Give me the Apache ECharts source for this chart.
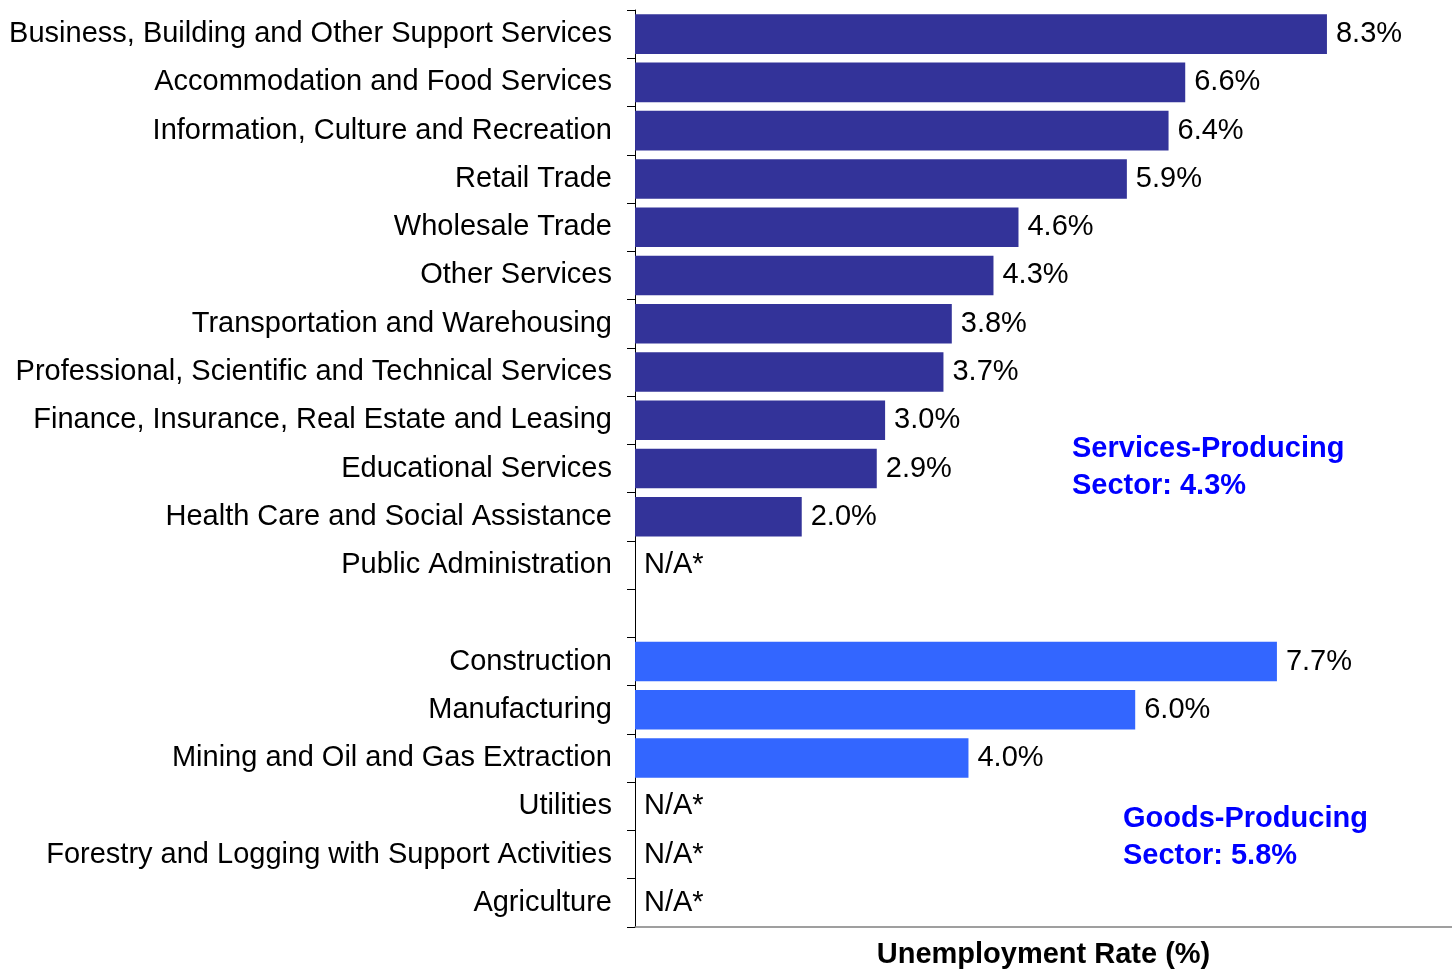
<!DOCTYPE html>
<html>
<head>
<meta charset="utf-8">
<script src="https://cdn.jsdelivr.net/npm/echarts@6/dist/echarts.min.js"></script>
<style>html,body{margin:0;padding:0;background:#fff}#c{width:1452px;height:970px}</style>
</head>
<body>
<div id="c"></div>
<script>
// Categories (top to bottom); '' is the spacer row between sectors
const categories = [
  'Business, Building and Other Support Services',
  'Accommodation and Food Services',
  'Information, Culture and Recreation',
  'Retail Trade',
  'Wholesale Trade',
  'Other Services',
  'Transportation and Warehousing',
  'Professional, Scientific and Technical Services',
  'Finance, Insurance, Real Estate and Leasing',
  'Educational Services',
  'Health Care and Social Assistance',
  'Public Administration',
  '',
  'Construction',
  'Manufacturing',
  'Mining and Oil and Gas Extraction',
  'Utilities',
  'Forestry and Logging with Support Activities',
  'Agriculture'
];
// null = N/A*
const servicesRates = [8.3, 6.6, 6.4, 5.9, 4.6, 4.3, 3.8, 3.7, 3.0, 2.9, 2.0, null];
const goodsRates = [7.7, 6.0, 4.0, null, null, null];
const servicesNote = ['Services-Producing', 'Sector: 4.3%'];
const goodsNote = ['Goods-Producing', 'Sector: 5.8%'];

const FONT = '"Liberation Sans", Arial, sans-serif';
const FS = 29;

function toItem(v) {
  if (v === null) return { value: 0, label: { formatter: 'N/A*' } };
  return { value: v };
}
const servicesData = categories.map((c, i) => i < servicesRates.length ? toItem(servicesRates[i]) : '-');
const goodsStart = servicesRates.length + 1;
const goodsData = categories.map((c, i) => (i >= goodsStart && i - goodsStart < goodsRates.length) ? toItem(goodsRates[i - goodsStart]) : '-');

const labelCfg = {
  show: true, position: 'right', distance: 9,
  fontFamily: FONT, fontSize: FS, color: '#000',
  formatter: p => p.value.toFixed(1) + '%'
};

const chart = echarts.init(document.getElementById('c'), null, { renderer: 'canvas' });
chart.setOption({
  animation: false,
  backgroundColor: '#fff',
  grid: { left: 635, right: 0, top: 10, bottom: 43, containLabel: false, outerBoundsMode: 'none' },
  xAxis: {
    type: 'value', min: 0, max: 9.8,
    name: 'Unemployment Rate (%)', nameLocation: 'middle', nameGap: 13,
    nameTextStyle: { fontFamily: FONT, fontSize: FS, fontWeight: 'bold', color: '#000' },
    axisLine: { show: true, lineStyle: { color: '#808080', width: 1.5 } },
    axisTick: { show: false }, axisLabel: { show: false }, splitLine: { show: false }
  },
  yAxis: {
    type: 'category', data: categories, inverse: true,
    axisLine: { show: true, lineStyle: { color: '#000', width: 1 } },
    axisTick: { show: true, length: 8, lineStyle: { color: '#000' } },
    axisLabel: { fontFamily: FONT, fontSize: FS, color: '#000', margin: 23, padding: [4, 0, 0, 0] }
  },
  series: [
    {
      type: 'bar', name: 'Services', data: servicesData, stack: 'a',
      barCategoryGap: '18%', itemStyle: { color: '#333399' }, label: labelCfg
    },
    {
      type: 'bar', name: 'Goods', data: goodsData, stack: 'a',
      barCategoryGap: '18%', itemStyle: { color: '#3366FF' }, label: labelCfg
    }
  ],
  graphic: [
    { type: 'text', left: 1072, top: 430, style: { text: servicesNote.join('\n'), fontFamily: FONT, fontSize: FS, fontWeight: 'bold', fill: '#0000FF', lineHeight: 37 } },
    { type: 'text', left: 1123, top: 800, style: { text: goodsNote.join('\n'), fontFamily: FONT, fontSize: FS, fontWeight: 'bold', fill: '#0000FF', lineHeight: 37 } }
  ]
});
</script>
</body>
</html>
